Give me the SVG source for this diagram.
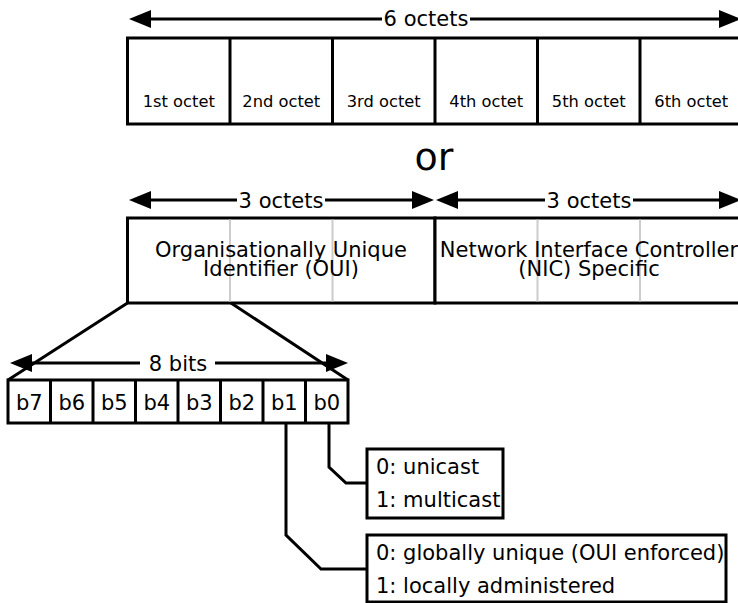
<svg xmlns="http://www.w3.org/2000/svg" width="738" height="603" viewBox="0 0 738 603">
<style>
.t{font-family:"DejaVu Sans","Liberation Sans",sans-serif;font-size:21px;fill:#000}
.s{font-family:"DejaVu Sans","Liberation Sans",sans-serif;font-size:16.3px;fill:#000}
.m{text-anchor:middle}
.box{fill:#fff;stroke:#000;stroke-width:3}
.ln{fill:none;stroke:#000;stroke-width:3}
.gr{fill:none;stroke:#ccc;stroke-width:2}
.ar{fill:none;stroke:#000;stroke-width:3}
</style>
<defs>
<marker id="ah" viewBox="0 -10 24 20" refX="0" refY="0" markerWidth="24" markerHeight="20" markerUnits="userSpaceOnUse" orient="auto-start-reverse"><path d="M0,-9 L22,0 L0,9 Z" fill="#000"/></marker>
</defs>
<rect width="738" height="603" fill="#fff"/>

<g id="octets6">
<rect class="box" x="127.5" y="38" width="615" height="86"/>
<path class="ln" d="M230,38V124M332.5,38V124M435,38V124M537.5,38V124M640,38V124"/>
<text class="s m" x="178.75" y="107">1st octet</text>
<text class="s m" x="281.25" y="107">2nd octet</text>
<text class="s m" x="383.75" y="107">3rd octet</text>
<text class="s m" x="486.25" y="107">4th octet</text>
<text class="s m" x="588.75" y="107">5th octet</text>
<text class="s m" x="691.25" y="107">6th octet</text>
</g>

<g id="or">
<text class="t m" x="434" y="170" style="font-size:38px">or</text>
</g>

<g id="oui">
<rect class="box" x="127.5" y="218" width="307.5" height="85"/>
<path class="gr" d="M230,219.5V301.5M332.5,219.5V301.5"/>
<text class="t m" x="281" y="257">Organisationally Unique</text>
<text class="t m" x="281" y="276">Identifier (OUI)</text>
</g>

<g id="nic">
<rect class="box" x="435" y="218" width="307.5" height="85"/>
<path class="gr" d="M537.5,219.5V301.5M640,219.5V301.5"/>
<text class="t m" x="589" y="256.5">Network Interface Controller</text>
<text class="t m" x="589" y="276">(NIC) Specific</text>
</g>

<g id="bits">
<rect class="box" x="8" y="380" width="340" height="43"/>
<path class="ln" d="M50.5,380V423M93,380V423M135.5,380V423M178,380V423M220.5,380V423M263,380V423M305.5,380V423"/>
<text class="t m" x="29.25" y="410">b7</text>
<text class="t m" x="71.75" y="410">b6</text>
<text class="t m" x="114.25" y="410">b5</text>
<text class="t m" x="156.75" y="410">b4</text>
<text class="t m" x="199.25" y="410">b3</text>
<text class="t m" x="241.75" y="410">b2</text>
<text class="t m" x="284.25" y="410">b1</text>
<text class="t m" x="326.75" y="410">b0</text>
</g>

<g id="cast">
<rect class="box" x="367" y="449" width="136" height="69"/>
<text class="t" x="376" y="474">0: unicast</text>
<text class="t" x="376" y="507">1: multicast</text>
</g>

<g id="admin">
<rect class="box" x="367" y="535" width="359" height="67"/>
<text class="t" x="376" y="559.5">0: globally unique (OUI enforced)</text>
<text class="t" x="376" y="593">1: locally administered</text>
</g>

<g id="connectors">
<path class="ar" d="M151,19H382" marker-start="url(#ah)"/>
<path class="ar" d="M470,19H719" marker-end="url(#ah)"/>
<text class="t m" x="426" y="26">6 octets</text>
<path class="ar" d="M151,200H237" marker-start="url(#ah)"/>
<path class="ar" d="M325,200H412" marker-end="url(#ah)"/>
<text class="t m" x="281" y="207.5">3 octets</text>
<path class="ar" d="M458,200H545" marker-start="url(#ah)"/>
<path class="ar" d="M633,200H719" marker-end="url(#ah)"/>
<text class="t m" x="589" y="207.5">3 octets</text>
<path class="ln" d="M127.5,303L8,380M231,303L348,380"/>
<path class="ar" d="M32,363H140" marker-start="url(#ah)"/>
<path class="ar" d="M215,363H326" marker-end="url(#ah)"/>
<text class="t m" x="178" y="370.5">8 bits</text>
<path class="ln" d="M329,423V467L346,483H367"/>
<path class="ln" d="M286,423V535L321,569H367"/>
</g>
</svg>
